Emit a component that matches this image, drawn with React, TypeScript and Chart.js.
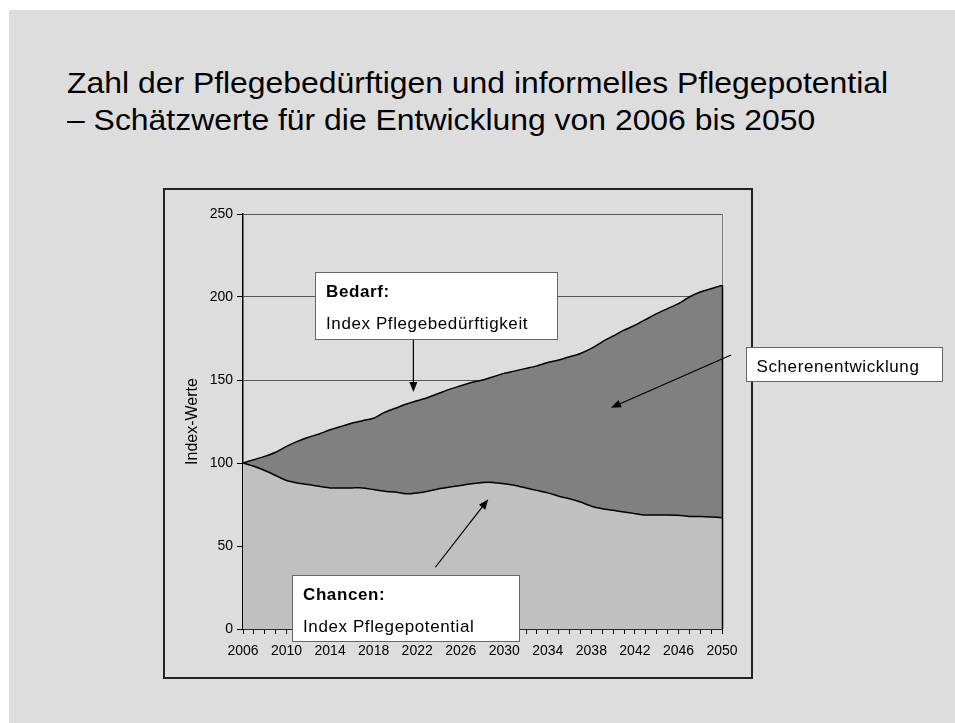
import React, { useEffect, useRef } from "react";
import { Chart, registerables } from "chart.js";

Chart.register(...registerables);

// ---------- data ----------
const YEARS = [
  2006, 2007, 2008, 2009, 2010, 2011, 2012, 2013, 2014, 2015, 2016, 2017, 2018, 2019, 2020,
  2021, 2022, 2023, 2024, 2025, 2026, 2027, 2028, 2029, 2030, 2031, 2032, 2033, 2034, 2035,
  2036, 2037, 2038, 2039, 2040, 2041, 2042, 2043, 2044, 2045, 2046, 2047, 2048, 2049, 2050,
];

// Index Pflegebedürftigkeit (Bedarf)
const BEDARF = [
  100, 102, 104, 106.5, 110, 113, 115.5, 117.5, 120, 122, 124, 125.5, 127, 130.5, 133,
  135.5, 137.5, 139.5, 142, 144.5, 146.5, 148.5, 150, 152, 154, 155.5, 157, 158.5, 160.5, 162,
  164, 166, 169, 173, 176.5, 180, 183, 186.5, 190, 193, 196, 200, 203, 205, 207,
];

// Index Pflegepotential (Chancen)
const POTENTIAL = [
  100, 98, 95.5, 92.5, 89.5, 88, 87, 86, 85, 85, 85, 85, 84, 83, 82.5,
  81.5, 82, 83, 84.5, 85.5, 86.5, 87.5, 88.3, 88.3, 87.5, 86.5, 85, 83.5, 82, 80,
  78.5, 76.5, 74, 72.5, 71.5, 70.5, 69.5, 68.7, 68.7, 68.7, 68.5, 67.8, 67.8, 67.5, 67,
];

const Y_MIN = 0;
const Y_MAX = 250;
const Y_STEP = 50;
const X_LABEL_EVERY = 4;

const TITLE_LINES = [
  "Zahl der Pflegebedürftigen und informelles Pflegepotential",
  "– Schätzwerte für die Entwicklung von 2006 bis 2050",
];
const Y_TITLE = "Index-Werte";

// annotation boxes (data coordinates: year / index value)
const NOTE_BEDARF = { x1: 2012.6, x2: 2034.85, yTop: 215, yBottom: 174.7, bold: "Bedarf:", text: "Index Pflegebedürftigkeit" };
const NOTE_CHANCEN = { x1: 2010.5, x2: 2031.35, yTop: 32.5, yBottom: -7.2, bold: "Chancen:", text: "Index Pflegepotential" };
const NOTE_SCHERE = { x1: 2052.18, x2: 2070.24, yTop: 169.7, yBottom: 149.2, text: "Scherenentwicklung" };

const ARROW_BEDARF = { from: [2021.65, 174.7], to: [2021.65, 142.8] };
const ARROW_CHANCEN = { from: [2023.67, 37.2], to: [2028.53, 78.1] };
const ARROW_SCHERE = { from: [2050.83, 165.1], to: [2039.8, 133.3] };

// ---------- styles ----------
const FONT = "'Liberation Sans', Arial, sans-serif";
const PANEL_BG = "#dddddd";
const LIGHT_FILL = "#c0c0c0";
const DARK_FILL = "#808080";

const CANVAS_LEFT = 150;
const CANVAS_TOP = 180;
const CANVAS_W = 805;
const CANVAS_H = 543;

function drawArrow(ctx: CanvasRenderingContext2D, x1: number, y1: number, x2: number, y2: number) {
  const ang = Math.atan2(y2 - y1, x2 - x1);
  const len = 10;
  const half = 4;
  const bx = x2 - Math.cos(ang) * len;
  const by = y2 - Math.sin(ang) * len;
  ctx.beginPath();
  ctx.moveTo(x1, y1);
  ctx.lineTo(bx, by);
  ctx.strokeStyle = "#000";
  ctx.lineWidth = 1.2;
  ctx.stroke();
  ctx.beginPath();
  ctx.moveTo(x2, y2);
  ctx.lineTo(bx + Math.sin(ang) * half, by - Math.cos(ang) * half);
  ctx.lineTo(bx - Math.sin(ang) * half, by + Math.cos(ang) * half);
  ctx.closePath();
  ctx.fillStyle = "#000";
  ctx.fill();
}

function drawNote(chart: any, note: any) {
  const { ctx, scales } = chart;
  const xs = scales.x;
  const ys = scales.y;
  const l = Math.round(xs.getPixelForValue(note.x1)) + 0.5;
  const r = Math.round(xs.getPixelForValue(note.x2)) + 0.5;
  const t = Math.round(ys.getPixelForValue(note.yTop)) + 0.5;
  const b = Math.round(ys.getPixelForValue(note.yBottom)) + 0.5;
  ctx.save();
  ctx.fillStyle = "#ffffff";
  ctx.fillRect(l, t, r - l, b - t);
  ctx.strokeStyle = "#666666";
  ctx.lineWidth = 1;
  ctx.strokeRect(l, t, r - l, b - t);
  ctx.fillStyle = "#000";
  ctx.textBaseline = "alphabetic";
  ctx.textAlign = "left";
  (ctx as any).letterSpacing = "0.6px";
  if (note.bold) {
    ctx.font = `bold 17px ${FONT}`;
    ctx.fillText(note.bold, l + 10.5, t + 24);
    ctx.font = `17px ${FONT}`;
    ctx.fillText(note.text, l + 10.5, t + 56.5);
  } else {
    ctx.font = `17px ${FONT}`;
    ctx.fillText(note.text, l + 10, t + 24.5);
  }
  ctx.restore();
}

const notesPlugin = {
  id: "notes",
  beforeDatasetsDraw(chart: any) {
    const { ctx, chartArea } = chart;
    ctx.save();
    ctx.strokeStyle = "#808080";
    ctx.lineWidth = 1;
    ctx.beginPath();
    const x = Math.round(chartArea.right) + 0.5;
    ctx.moveTo(x, chartArea.top);
    ctx.lineTo(x, chartArea.bottom);
    ctx.stroke();
    ctx.restore();
  },
  afterDatasetsDraw(chart: any) {
    const { ctx, chartArea, scales } = chart;
    const last = BEDARF[BEDARF.length - 1];
    ctx.save();
    ctx.strokeStyle = "#000";
    ctx.lineWidth = 1.5;
    ctx.beginPath();
    const x = Math.round(chartArea.right) + 0.5;
    ctx.moveTo(x, scales.y.getPixelForValue(last));
    ctx.lineTo(x, chartArea.bottom);
    ctx.stroke();
    ctx.restore();
  },
  afterDraw(chart: any) {
    const { ctx, scales } = chart;
    const px = (p: number[]) => [scales.x.getPixelForValue(p[0]), scales.y.getPixelForValue(p[1])];
    ctx.save();
    for (const a of [ARROW_BEDARF, ARROW_CHANCEN, ARROW_SCHERE]) {
      const [x1, y1] = px(a.from);
      const [x2, y2] = px(a.to);
      drawArrow(ctx, x1, y1, x2, y2);
    }
    ctx.restore();
    drawNote(chart, NOTE_BEDARF);
    drawNote(chart, NOTE_CHANCEN);
    drawNote(chart, NOTE_SCHERE);
  },
};

function ChartView() {
  const ref = useRef<HTMLCanvasElement | null>(null);
  useEffect(() => {
    if (!ref.current) return;
    const lower = YEARS.map((y, i) => ({ x: y, y: POTENTIAL[i] }));
    const upper = YEARS.map((y, i) => ({ x: y, y: BEDARF[i] }));
    const chart = new Chart(ref.current, {
      type: "line",
      data: {
        datasets: [
          {
            label: "Index Pflegepotential",
            data: lower,
            fill: "origin",
            backgroundColor: LIGHT_FILL,
            borderColor: "#000",
            borderWidth: 1.5,
            pointRadius: 0,
            tension: 0.2,
          },
          {
            label: "Index Pflegebedürftigkeit",
            data: upper,
            fill: "-1",
            backgroundColor: DARK_FILL,
            borderColor: "#000",
            borderWidth: 1.5,
            pointRadius: 0,
            tension: 0.2,
          },
        ],
      },
      options: {
        animation: false,
        responsive: false,
        devicePixelRatio: 1,
        layout: { padding: { left: 30, top: 34, right: CANVAS_W - 572, bottom: 54 } },
        plugins: {
          legend: { display: false },
          tooltip: { enabled: false },
          title: { display: false },
        },
        scales: {
          x: {
            type: "linear",
            min: YEARS[0],
            max: YEARS[YEARS.length - 1],
            afterFit: (s: any) => { s.height = 40; },
            afterBuildTicks: (s: any) => { s.ticks = YEARS.map((v) => ({ value: v })); },
            ticks: {
              autoSkip: false,
              maxRotation: 0,
              minRotation: 0,
              padding: 9,
              color: "#000",
              font: { family: FONT, size: 14 },
              callback: (v: any) => ((Number(v) - YEARS[0]) % X_LABEL_EVERY === 0 ? String(v) : ""),
            },
            grid: { drawOnChartArea: false, drawTicks: true, tickLength: 5, tickColor: "#000", lineWidth: 1 },
            border: { display: true, color: "#000", width: 1.5 },
          },
          y: {
            min: Y_MIN,
            max: Y_MAX,
            afterFit: (s: any) => { s.width = 63; },
            ticks: {
              stepSize: Y_STEP,
              padding: 4,
              color: "#000",
              font: { family: FONT, size: 14 },
            },
            grid: { color: "#555555", lineWidth: 1, tickLength: 6, tickColor: "#000" },
            border: { display: true, color: "#000", width: 1.5 },
            title: {
              display: true,
              text: Y_TITLE,
              color: "#000",
              font: { family: FONT, size: 16 },
              padding: { top: 3, bottom: 3 },
            },
          },
        },
      },
      plugins: [notesPlugin],
    } as any);
    return () => chart.destroy();
  }, []);
  return (
    <canvas
      ref={ref}
      width={CANVAS_W}
      height={CANVAS_H}
      style={{ position: "absolute", left: CANVAS_LEFT, top: CANVAS_TOP, width: CANVAS_W, height: CANVAS_H }}
    />
  );
}

export default function App() {
  return (
    <div style={{ position: "absolute", left: 0, top: 0, width: 955, height: 723, background: "#fff", overflow: "hidden" }}>
      <div style={{ position: "absolute", left: 9, top: 10, width: 946, height: 713, background: PANEL_BG }} />
      <div
        style={{
          position: "absolute",
          left: 67,
          top: 65,
          fontFamily: FONT,
          fontSize: 29,
          lineHeight: "37px",
          color: "#000",
          whiteSpace: "nowrap",
          transform: "scaleX(1.1)",
          transformOrigin: "0 0",
        }}
      >
        {TITLE_LINES.map((t, i) => (
          <div key={i}>{t}</div>
        ))}
      </div>
      <div
        style={{
          position: "absolute",
          left: 163,
          top: 188,
          width: 590,
          height: 491,
          boxSizing: "border-box",
          border: "2px solid #222",
        }}
      />
      <ChartView />
    </div>
  );
}
